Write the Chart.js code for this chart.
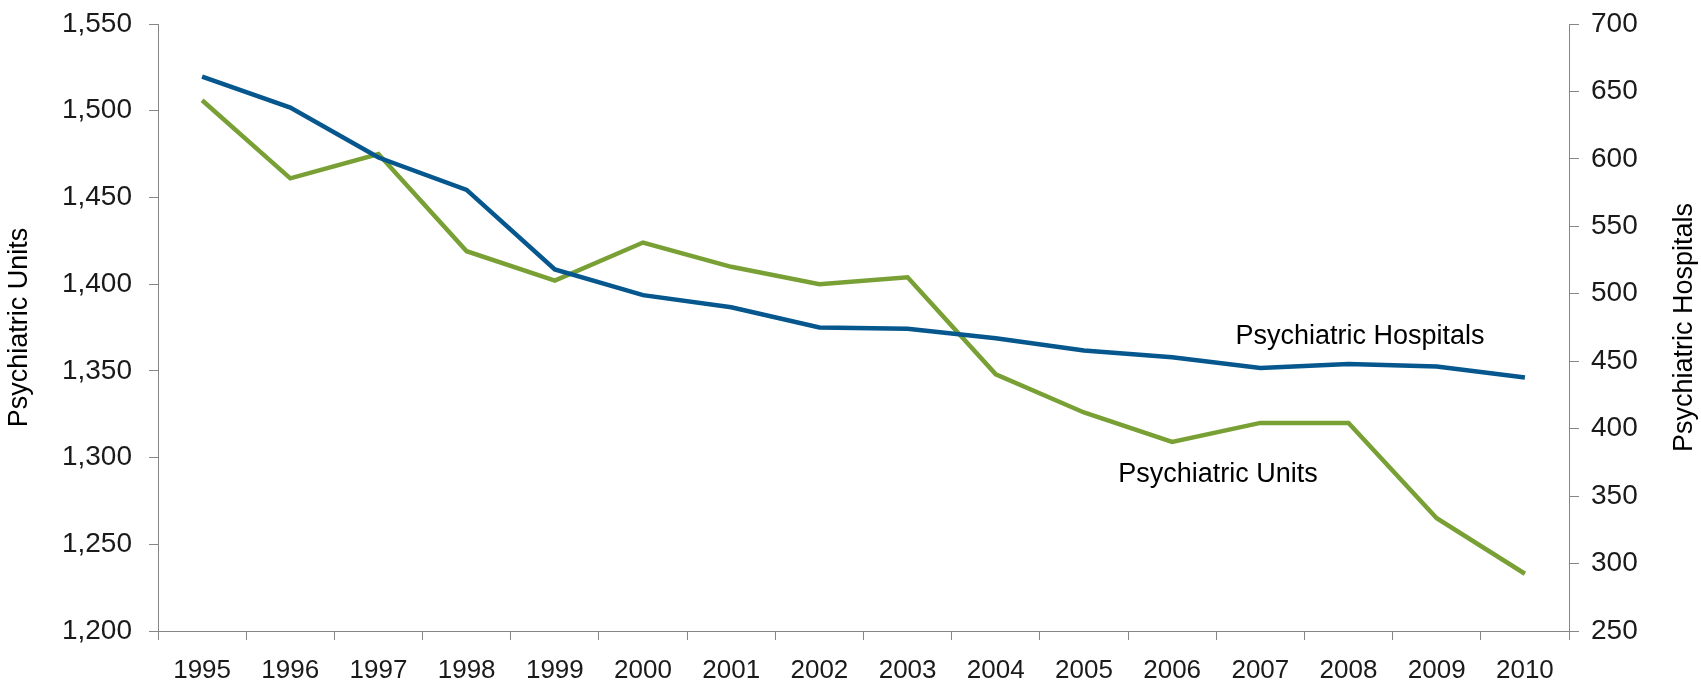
<!DOCTYPE html>
<html>
<head>
<meta charset="utf-8">
<title>Psychiatric Units and Hospitals, 1995-2010</title>
<script src="https://cdn.jsdelivr.net/npm/chart.js@4.4.1/dist/chart.umd.min.js"></script>
<style>
    html, body { margin: 0; padding: 0; background: #fff; }
    #wrap { width: 1701px; height: 683px; }
</style>
</head>
<body>
<div id="wrap"><canvas id="psychChart"></canvas></div>
<script>
// values
const years = ['1995', '1996', '1997', '1998', '1999', '2000', '2001', '2002', '2003', '2004', '2005', '2006', '2007', '2008', '2009', '2010'];
const unitsValues = [1506, 1461, 1475, 1419, 1402, 1424, 1410, 1400, 1404, 1348, 1326, 1309, 1320, 1320, 1265, 1233];
const hospitalValues = [661, 638, 601, 577, 518, 499, 490, 475, 474, 467, 458, 453, 445, 448, 446, 438];
const unitsTicks = [1200, 1250, 1300, 1350, 1400, 1450, 1500, 1550];
const hospitalTicks = [250, 300, 350, 400, 450, 500, 550, 600, 650, 700];

const FONT = "'Liberation Sans', Arial, sans-serif";
const AXIS_GREY = '#868686';
const TEXT = '#1a1a1a';
const BLUE = '#05578d';
const GREEN = '#79a035';

// series names written inside the plot, anchored on the scales
const inlineLabels = [
    { text: 'Psychiatric Hospitals', scale: 'yHosp', at: 13.13, value: 468 },
    { text: 'Psychiatric Units', scale: 'yUnits', at: 11.52, value: 1290 }
];

const extraText = {
    id: 'extraText',
    afterDraw(chart) {
        const ctx = chart.ctx;
        const x = chart.scales.x;
        ctx.save();
        ctx.fillStyle = '#000';
        ctx.font = '27px ' + FONT;
        ctx.textAlign = 'center';
        ctx.textBaseline = 'middle';
        inlineLabels.forEach(l => {
            ctx.fillText(l.text, x.getPixelForValue(l.at), chart.scales[l.scale].getPixelForValue(l.value));
        });

        // right axis title reads bottom to top in the original
        const area = chart.chartArea;
        ctx.translate(chart.width - 16, (area.top + area.bottom) / 2);
        ctx.rotate(-Math.PI / 2);
        ctx.fillText('Psychiatric Hospitals', 0, 0);
        ctx.restore();
    }
};

// fixed axis boxes so the plot area lands where it is in the original
function fixWidth(w) {
    return s => {
        s.width = w;
        s.paddingTop = 0;
        s.paddingBottom = 0;
    };
}

const ctx = document.getElementById('psychChart').getContext('2d');
const psychChart = new Chart(ctx, {
    type: 'line',
    data: {
        labels: years,
        datasets: [{
            label: 'Psychiatric Hospitals',
            data: hospitalValues,
            yAxisID: 'yHosp',
            borderColor: BLUE,
            borderWidth: 4.5,
            pointRadius: 0,
            tension: 0
        }, {
            label: 'Psychiatric Units',
            data: unitsValues,
            yAxisID: 'yUnits',
            borderColor: GREEN,
            borderWidth: 4.5,
            pointRadius: 0,
            tension: 0
        }]
    },
    options: {
        responsive: true,
        maintainAspectRatio: false,
        animation: false,
        layout: { padding: { top: 24, left: 0, right: 0, bottom: 0 } },
        plugins: {
            legend: { display: false },
            tooltip: { enabled: false }
        },
        scales: {
            x: {
                offset: true,
                afterFit: s => { s.height = 52; s.paddingLeft = 0; s.paddingRight = 0; },
                grid: { offset: true, drawOnChartArea: false, tickLength: 9, tickColor: AXIS_GREY },
                border: { color: AXIS_GREY, width: 1 },
                ticks: { color: TEXT, font: { family: FONT, size: 26 }, padding: 15, maxRotation: 0, autoSkip: false }
            },
            yUnits: {
                position: 'left',
                min: 1200,
                max: 1550,
                afterFit: fixWidth(158),
                afterBuildTicks: s => { s.ticks = unitsTicks.map(v => ({ value: v })); },
                grid: { drawOnChartArea: false, tickLength: 9, tickColor: AXIS_GREY },
                border: { color: AXIS_GREY, width: 1 },
                ticks: {
                    color: TEXT,
                    font: { family: FONT, size: 28 },
                    padding: 17,
                    callback: v => v.toLocaleString('en-US')
                },
                title: {
                    display: true,
                    text: 'Psychiatric Units',
                    color: '#000',
                    font: { family: FONT, size: 27 },
                    padding: { top: 3, bottom: 0 }
                }
            },
            yHosp: {
                position: 'right',
                min: 250,
                max: 700,
                afterFit: fixWidth(132),
                afterBuildTicks: s => { s.ticks = hospitalTicks.map(v => ({ value: v })); },
                grid: { drawOnChartArea: false, tickLength: 10, tickColor: AXIS_GREY },
                border: { color: AXIS_GREY, width: 1 },
                ticks: {
                    color: TEXT,
                    font: { family: FONT, size: 28 },
                    padding: 12
                }
            }
        }
    },
    plugins: [extraText]
});
</script>
</body>
</html>
